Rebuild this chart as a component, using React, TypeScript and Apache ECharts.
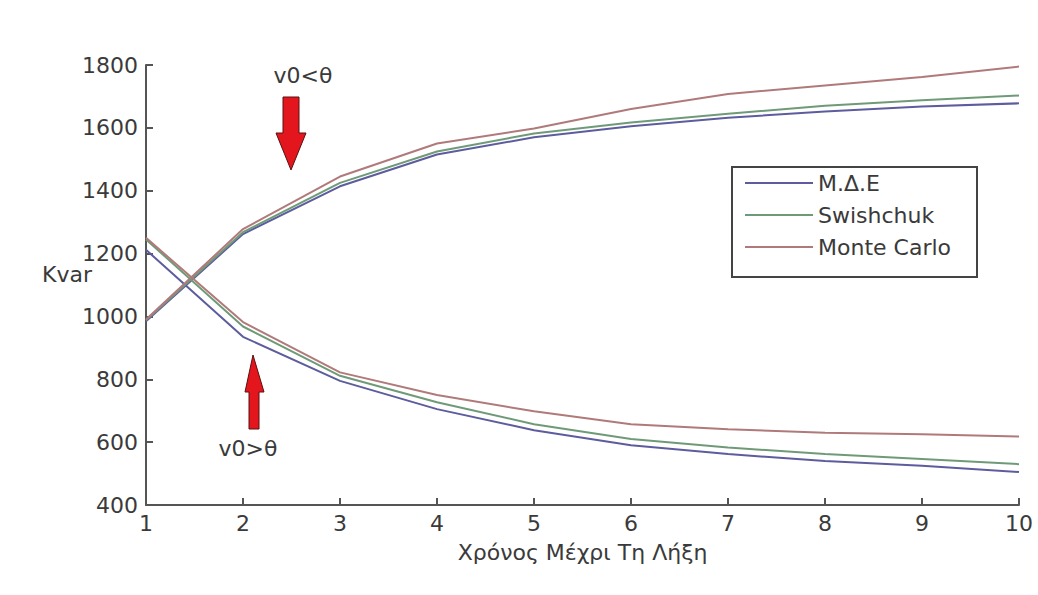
import React, { useEffect, useRef } from "react";
import * as echarts from "echarts";

const years = [1, 2, 3, 4, 5, 6, 7, 8, 9, 10];

// Rising curves (v0 < θ)
const mdeUp = [985, 1262, 1414, 1515, 1570, 1605, 1632, 1652, 1668, 1678];
const swishUp = [988, 1268, 1425, 1525, 1582, 1617, 1645, 1670, 1688, 1703];
const monteUp = [990, 1278, 1445, 1550, 1598, 1660, 1708, 1735, 1762, 1795];

// Falling curves (v0 > θ)
const mdeDown = [1212, 935, 795, 705, 638, 590, 562, 540, 525, 505];
const swishDown = [1245, 968, 811, 727, 657, 610, 583, 562, 546, 530];
const monteDown = [1250, 982, 822, 750, 698, 657, 641, 630, 625, 618];

const seriesNames = ["M.Δ.E", "Swishchuk", "Monte Carlo"];
const seriesColors = ["#5c5c9e", "#6f9a78", "#b07a7a"];

const FONT = "DejaVu Sans";
const TXT = "#3a3a3a";
const AXIS = "#555555";

function pair(xs: number[], ys: number[]) {
  return xs.map((x, i) => [x, ys[i]]);
}

export default function App() {
  const ref = useRef<HTMLDivElement>(null);
  useEffect(() => {
    document.body.style.margin = "0";
    if (!ref.current) return;
    const chart = echarts.init(ref.current, null, { renderer: "svg" });
    const groups = [
      [mdeUp, mdeDown],
      [swishUp, swishDown],
      [monteUp, monteDown],
    ];
    const series: any[] = [];
    groups.forEach((g, i) => {
      g.forEach((vals) => {
        series.push({
          type: "line",
          name: seriesNames[i],
          data: pair(years, vals),
          symbol: "none",
          smooth: false,
          color: seriesColors[i],
          lineStyle: { width: 2, color: seriesColors[i] },
        });
      });
    });
    chart.setOption({
      animation: false,
      backgroundColor: "#ffffff",
      textStyle: { fontFamily: FONT },
      grid: { left: 146, right: 19, top: 65, bottom: 90, containLabel: false },
      xAxis: {
        type: "value",
        min: 1,
        max: 10,
        interval: 1,
        name: "Χρόνος Μέχρι Τη Λήξη",
        nameLocation: "middle",
        nameGap: 36,
        nameMoveOverlap: false,
        nameTextStyle: { fontFamily: FONT, fontSize: 22, color: TXT },
        axisLine: { show: true, onZero: false, lineStyle: { color: AXIS, width: 2 } },
        axisTick: { show: true, inside: true, length: 7, lineStyle: { color: AXIS, width: 2 } },
        axisLabel: { fontFamily: FONT, fontSize: 22, color: TXT, margin: 7 },
        splitLine: { show: false },
      },
      yAxis: {
        type: "value",
        min: 400,
        max: 1800,
        interval: 200,
        name: "Kvar",
        nameLocation: "middle",
        nameRotate: 0,
        nameGap: 54,
        nameMoveOverlap: false,
        nameTextStyle: {
          fontFamily: FONT,
          fontSize: 22,
          color: TXT,
          align: "right",
          verticalAlign: "bottom",
        },
        axisLine: { show: true, onZero: false, lineStyle: { color: AXIS, width: 2 } },
        axisTick: { show: true, inside: true, length: 7, lineStyle: { color: AXIS, width: 2 } },
        axisLabel: {
          fontFamily: FONT,
          fontSize: 22,
          color: TXT,
          margin: 8,
          formatter: (v: number) => String(v),
        },
        splitLine: { show: false },
      },
      legend: {
        data: seriesNames.map((n) => ({ name: n, icon: "rect" })),
        orient: "vertical",
        left: 745,
        top: 171,
        padding: 0,
        itemWidth: 68,
        itemHeight: 2,
        itemGap: 8,
        selectedMode: false,
        textStyle: { fontFamily: FONT, fontSize: 22, color: TXT, lineHeight: 24 },
      },
      graphic: [
        {
          type: "rect",
          shape: { x: 732, y: 167, width: 245, height: 110 },
          style: { fill: "rgba(0,0,0,0)", stroke: "#444444", lineWidth: 2 },
          silent: true,
        },
        {
          type: "polygon",
          shape: {
            points: [
              [283, 97],
              [299, 97],
              [299, 133],
              [306, 133],
              [291, 170],
              [276, 133],
              [283, 133],
            ],
          },
          style: { fill: "#e3161e", stroke: "#5a1010", lineWidth: 1 },
          silent: true,
        },
        {
          type: "polygon",
          shape: {
            points: [
              [249, 429],
              [259, 429],
              [259, 392],
              [264, 392],
              [253, 355],
              [245, 392],
              [249, 392],
            ],
          },
          style: { fill: "#e3161e", stroke: "#5a1010", lineWidth: 1 },
          silent: true,
        },
        {
          type: "text",
          x: 303,
          y: 75,
          style: {
            text: "v0<θ",
            fontFamily: FONT,
            fontSize: 22,
            fill: TXT,
            align: "center",
            verticalAlign: "middle",
          },
          silent: true,
        },
        {
          type: "text",
          x: 248,
          y: 448,
          style: {
            text: "v0>θ",
            fontFamily: FONT,
            fontSize: 22,
            fill: TXT,
            align: "center",
            verticalAlign: "middle",
          },
          silent: true,
        },
      ],
      series,
    });
    return () => chart.dispose();
  }, []);
  return <div ref={ref} style={{ width: 1038, height: 595 }} />;
}
